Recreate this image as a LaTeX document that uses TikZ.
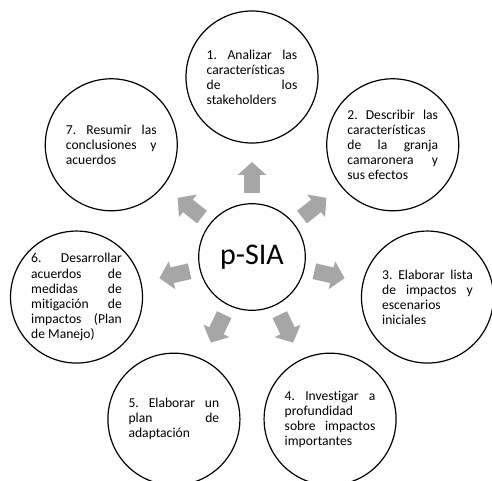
\documentclass[tikz,border=0pt]{standalone}
\usepackage{fontspec}
\setmainfont{Carlito}[Ligatures=NoCommon]
\usetikzlibrary{calc,arrows.meta}
\definecolor{grisflecha}{RGB}{166,166,166}
\frenchspacing
\tikzset{
    paso/.style={draw,circle,line width=0.9pt,minimum size=99pt,inner sep=0pt,
        text width=68pt,align=justify,font=\fontsize{10.2}{11.3}\selectfont},
    centro/.style={draw,circle,line width=0.9pt,minimum size=80pt,inner sep=0pt,
        font=\fontsize{22.5}{27}\selectfont},
    flecha/.style={draw=grisflecha,line width=12pt,-{Triangle[width=21pt,length=9.75pt]}}
}
\begin{document}
\hyphenpenalty=10000
\begin{tikzpicture}[x=0.75pt,y=0.75pt]
        \useasboundingbox (-252,-224) rectangle (240,257);

        \node[centro] (c) at (0,0) {p-SIA};

        \node[paso] (s1) at (90:180) {1. Analizar las\linebreak características\linebreak de los\linebreak stakeholders};
        \node[paso] (s2) at (38.57:180) {2. Describir las\linebreak características\linebreak de la granja\linebreak camaronera y\linebreak sus efectos};
        \node[paso] (s3) at (-12.86:180) {3. Elaborar lista\linebreak de impactos y\linebreak escenarios\linebreak iniciales};
        \node[paso] (s4) at (-64.29:180) {4. Investigar a\linebreak profundidad\linebreak sobre impactos\linebreak importantes};
        \node[paso] (s5) at (-115.71:180) {5. Elaborar un\linebreak plan de\linebreak adaptación};
        \node[paso] (s6) at (-167.14:180) {6. Desarrollar\linebreak acuerdos de\linebreak medidas de\linebreak mitigación de\linebreak impactos (Plan\linebreak de Manejo)};
        \node[paso] (s7) at (141.43:180) {7. Resumir las\linebreak conclusiones y\linebreak acuerdos};

        % flechas hacia afuera
        \draw[flecha] ($(c)!48pt!(s1)$) -- ($(c)!71.25pt!(s1)$);
        \draw[flecha] ($(c)!48pt!(s2)$) -- ($(c)!71.25pt!(s2)$);
        \draw[flecha] ($(c)!48pt!(s3)$) -- ($(c)!71.25pt!(s3)$);
        \draw[flecha] ($(c)!48pt!(s4)$) -- ($(c)!71.25pt!(s4)$);
        \draw[flecha] ($(c)!48pt!(s5)$) -- ($(c)!71.25pt!(s5)$);
        \draw[flecha] ($(c)!48pt!(s6)$) -- ($(c)!71.25pt!(s6)$);
        \draw[flecha] ($(c)!48pt!(s7)$) -- ($(c)!71.25pt!(s7)$);
    \end{tikzpicture}
\end{document}
